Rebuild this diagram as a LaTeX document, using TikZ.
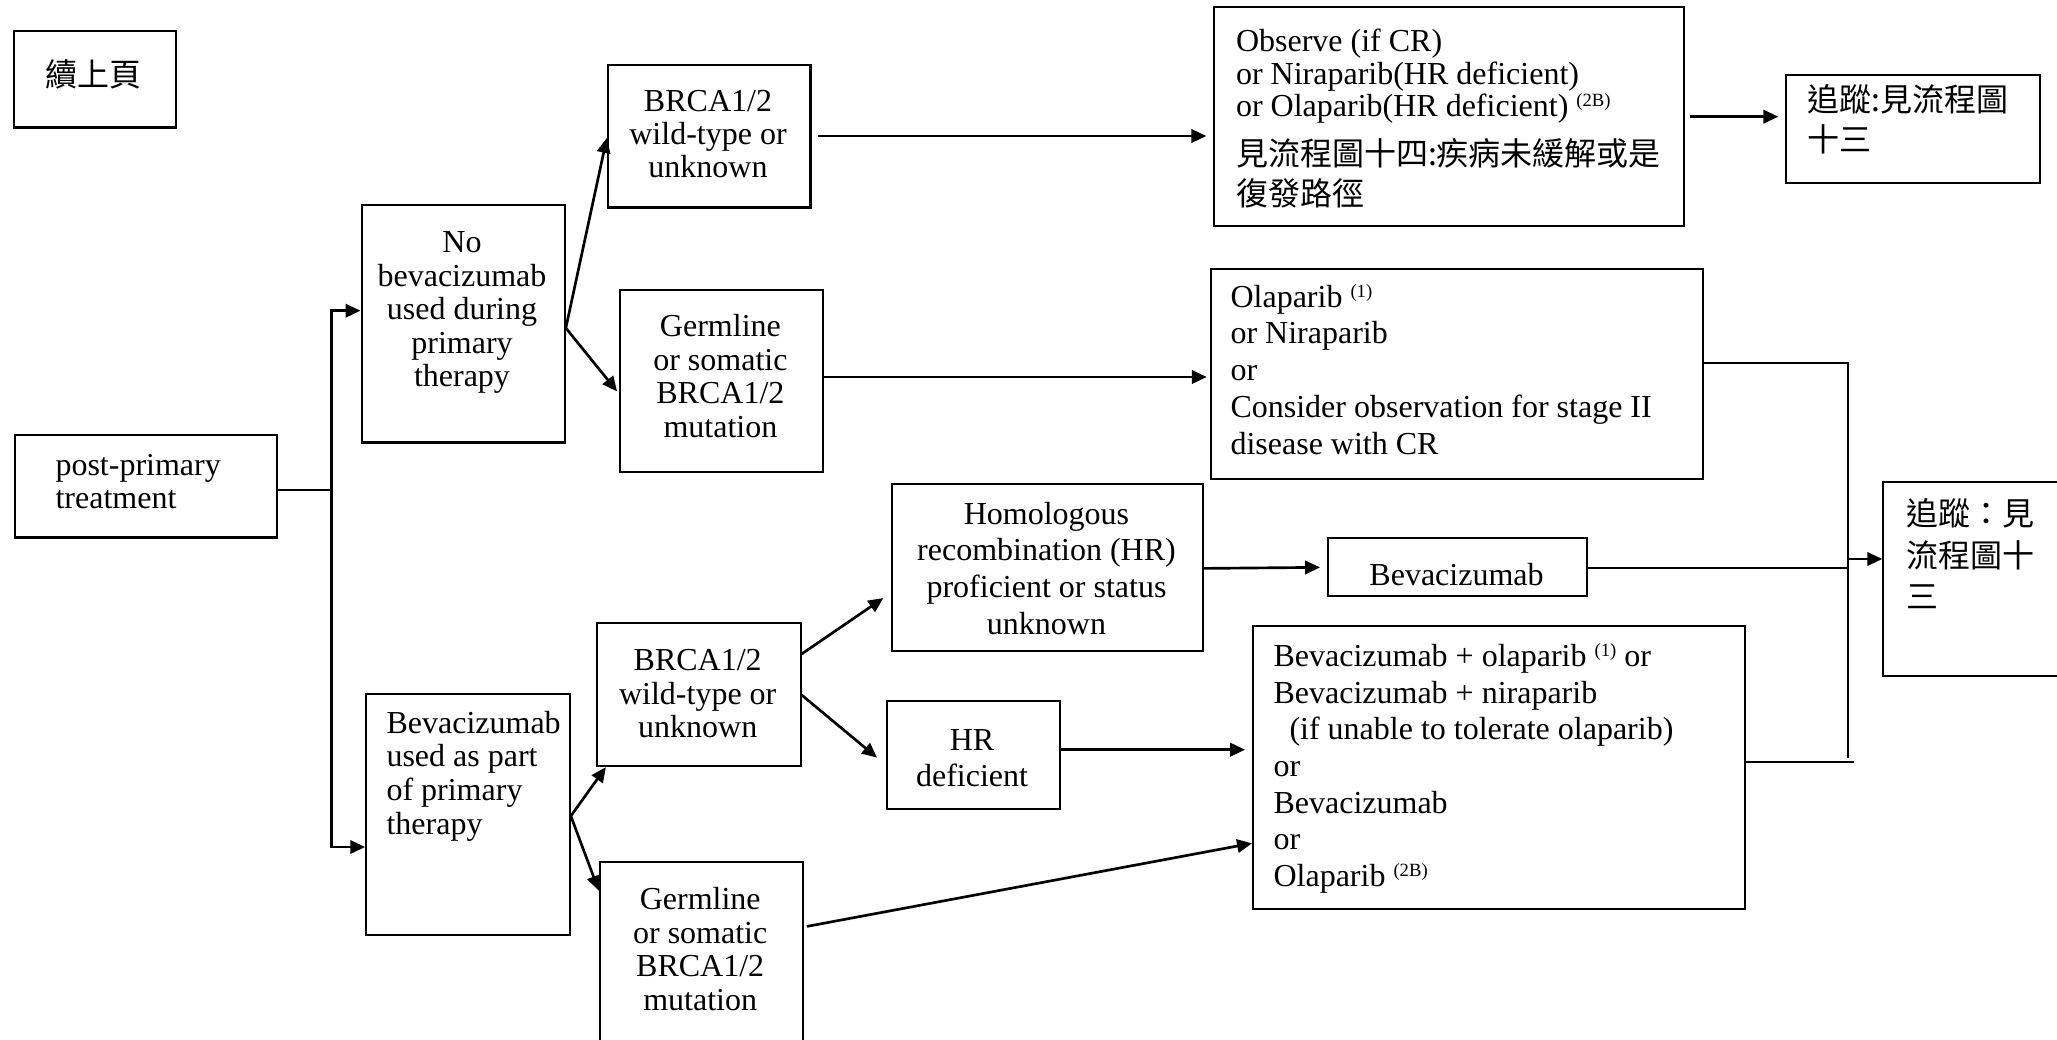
\documentclass[tikz,border=0pt]{standalone}
\usepackage{fontspec}
\setmainfont{Liberation Serif}
\newfontfamily\cjk{Noto Sans CJK TC}
\usetikzlibrary{arrows.meta}

% first-line strut: fixes the distance from a text block's top to its first baseline
\newcommand\fs{\rule{0pt}{11pt}}
% small raised reference marks
\newcommand\sups[1]{\raisebox{3.7pt}{\fontsize{7}{7}\selectfont #1}}
% 12pt text with a given line distance
\newcommand\ls[1]{\fontsize{12}{#1}\selectfont}

\begin{document}
\begin{tikzpicture}[x=0.375pt, y=-0.375pt,
  bx/.style n args={4}{draw, line width=0.8pt, inner sep=0pt, anchor=north west,
    at={(#1,#2)}, minimum width={(#3-#1)*0.375pt}, minimum height={(#4-#2)*0.375pt}},
  tc/.style={inner sep=0pt, anchor=north, align=center},
  tl/.style={inner sep=0pt, anchor=north west, align=left},
  ln/.style={line width=0.8pt},
  arr/.style={line width=1pt, -{Triangle[length=5.6pt,width=5pt]}}
]
\fill[white] (0,0) rectangle (2057,1040);
\useasboundingbox (0,0) rectangle (2057,1040);

% ---- boxes ----
\node[bx={12.6}{30}{174.5}{126.4}] (cont) {};
\node[bx={13.8}{434}{276}{536.4}] (pp) {};
\node[bx={360.5}{204.3}{563.7}{441.4}] (nobev) {};
\node[bx={606.8}{63.6}{809.4}{206.4}] (brt) {};
\node[bx={618.8}{289.3}{822}{470.7}] (gmt) {};
\node[bx={1212.5}{6}{1683.3}{225}] (obs) {};
\node[bx={1785}{74}{2039}{182}] (fu1) {};
\node[bx={1210}{268}{1702}{477.5}] (olap) {};
\node[bx={1882.3}{480.7}{2075}{675}] (fu2) {};
\node[bx={891}{483.3}{1202}{649.8}] (hr) {};
\node[bx={1327}{536.6}{1586}{595}] (bevs) {};
\node[bx={596}{622}{799.5}{765}] (brb) {};
\node[bx={885.6}{699.7}{1058.6}{807.8}] (hrd) {};
\node[bx={1252}{625}{1744}{907.5}] (combo) {};
\node[bx={598.8}{860.7}{801.6}{1060}] (gmb) {};
\node[bx={365.2}{693.3}{568.7}{934}] (bevu) {};

% ---- texts ----
\node[inner sep=0pt, font=\cjk\ls{14}] (cont-t) at (93.5,74) {續上頁};
\node[tl, font=\ls{12.4}] (pp-t) at (55,445.7) {\fs post-primary\\treatment};
\node[tc, font=\ls{12.56}] (nobev-t) at (462,222.7) {\fs No\\bevacizumab\\used during\\primary\\therapy};
\node[tc, font=\ls{12.5}] (brt-t) at (708,81.4) {\fs BRCA1/2\\wild-type or\\unknown};
\node[tc, font=\ls{12.7}] (gmt-t) at (720.4,306.4) {\fs Germline\\or somatic\\BRCA1/2\\mutation};
\node[tl, font=\ls{12.1}] (obs-t) at (1235.5,22) {\fs Observe (if CR)\\or Niraparib(HR deficient)\\or Olaparib(HR deficient) \sups{(2B)}\\[4.8pt]{\cjk 見流程圖十四:疾病未緩解或是}\\[3pt]{\cjk 復發路徑}};
\node[tl, font=\cjk\ls{15}] (fu1-t) at (1806.6,82) {\fs 追蹤:見流程圖\\十三};
\node[tl, font=\ls{13.76}] (olap-t) at (1230,277.4) {\fs Olaparib \sups{(1)}\\or Niraparib\\or\\Consider observation for stage II\\disease with CR};
\node[tl, font=\cjk\ls{15.56}] (fu2-t) at (1906,495.7) {\fs 追蹤：見\\流程圖十\\三};
\node[tc, font=\ls{13.8}] (hr-t) at (1046.5,494.3) {\fs Homologous\\recombination (HR)\\proficient or status\\unknown};
\node[tc, font=\ls{12}] (bevs-t) at (1456.5,555.5) {\fs Bevacizumab};
\node[tc, font=\ls{12.64}] (brb-t) at (697.7,640.7) {\fs BRCA1/2\\wild-type or\\unknown};
\node[tc, font=\ls{13.2}] (hrd-t) at (972,721.1) {\fs HR\\deficient};
\node[tl, font=\ls{13.75}] (combo-t) at (1273,636.5) {\fs Bevacizumab + olaparib \sups{(1)} or\\Bevacizumab + niraparib\\\hspace*{6pt}(if unable to tolerate olaparib)\\or\\Bevacizumab\\or\\Olaparib \sups{(2B)}};
\node[tc, font=\ls{12.64}] (gmb-t) at (700.2,879.5) {\fs Germline\\or somatic\\BRCA1/2\\mutation};
\node[tl, font=\ls{12.6}] (bevu-t) at (386,703.5) {\fs Bevacizumab\\used as part\\of primary\\therapy};

% ---- connectors: left split ----
\coordinate (jL) at (331.5,490);
\draw[ln] (pp.east |- jL) -- (jL);
\draw[arr] (jL) |- (nobev.west |- 0,310.7);
\draw[arr] (jL) |- (bevu.west |- 0,847);

% no bevacizumab branch
\draw[arr] (nobev.east |- 0,328) -- (brt.west |- 0,138);
\draw[arr, shorten >=1pt] (nobev.east |- 0,328) -- (gmt.west |- 0,393.5);
\draw[arr, shorten <=2.6pt, shorten >=2.3pt] (brt.east |- 0,136) -- (obs.west |- 0,136);
\draw[arr, shorten >=1.2pt] (gmt.east |- 0,377) -- (olap.west |- 0,377);
\draw[arr, shorten <=1.7pt, shorten >=2.5pt] (obs.east |- 0,116.7) -- (fu1.west |- 0,116.7);

% bevacizumab branch
\draw[arr] (bevu.east |- 0,816) -- ([xshift=3.7pt]brb.south west);
\draw[arr] (bevu.east |- 0,816) -- (gmb.west |- 0,890.7);
\draw[arr, shorten >=3.5pt] (brb.east |- 0,654) -- (hr.west |- 0,592.8);
\draw[arr, shorten >=4.2pt] (brb.east |- 0,695) -- (hrd.west |- 0,764.8);
\draw[arr, shorten >=2.6pt] (hr.east |- 0,568.4) -- (bevs.west |- 0,567.3);
\draw[arr, shorten >=2.6pt] (hrd.east |- 0,749.7) -- (combo.west |- 0,749.7);
\draw[arr, shorten <=1.2pt] (gmb.east |- 0,927) -- (combo.west |- 0,843.3);

% ---- right merge into follow-up ----
\coordinate (jR) at (1848,559);
\draw[ln] (olap.east |- 0,363.3) -- (jR |- 0,363.3) -- (jR |- 0,758);
\draw[ln] (bevs.east |- 0,567.7) -- (jR |- 0,567.7);
\draw[ln] (combo.east |- 0,761.7) -- ++(108,0);
\draw[arr] (jR) -- (fu2.west |- jR);
\end{tikzpicture}
\end{document}
